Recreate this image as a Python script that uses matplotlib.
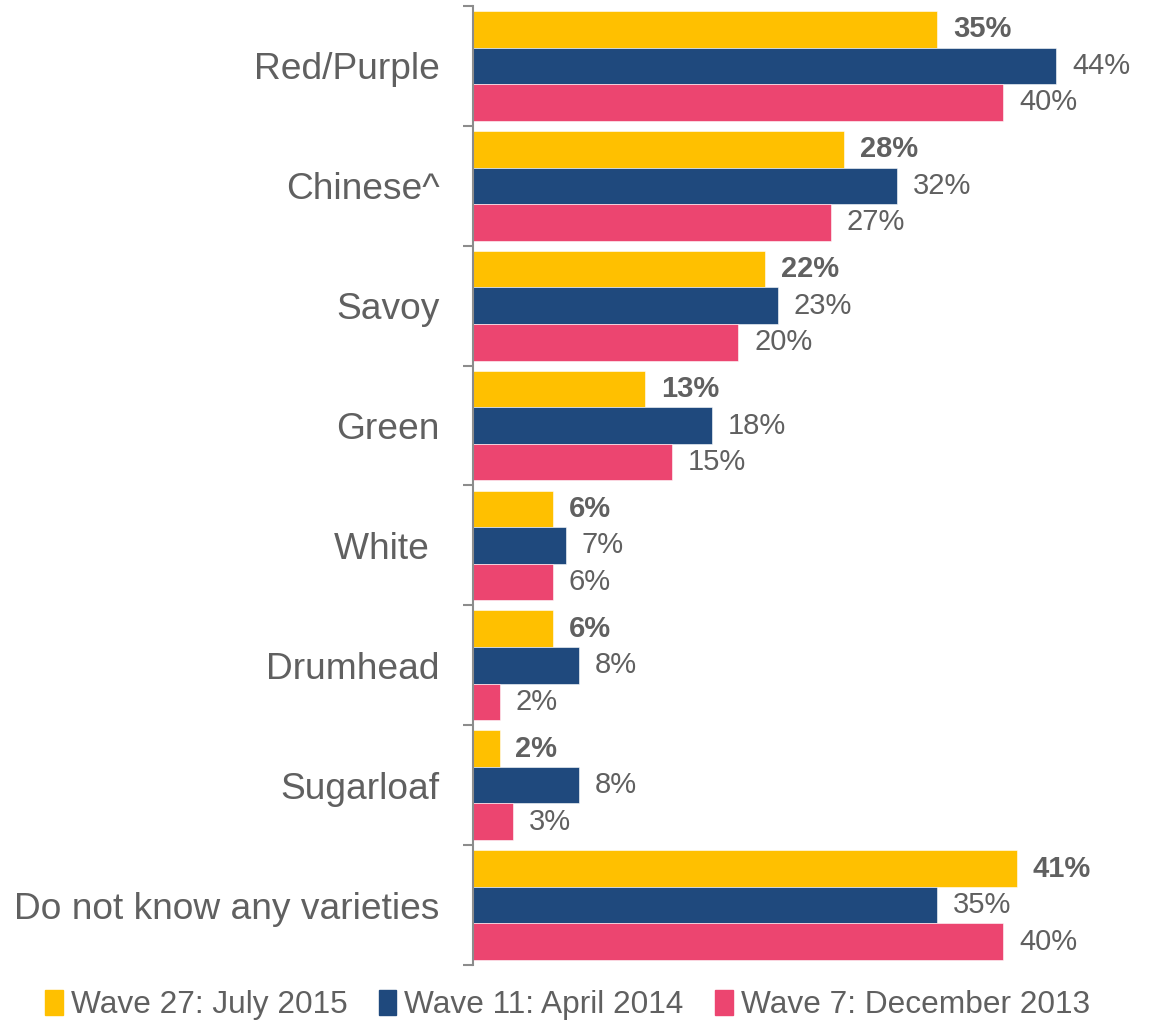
import numpy as np
import matplotlib.pyplot as plt
from matplotlib.patches import Patch

plt.rcParams['font.family'] = ['Liberation Sans', 'DejaVu Sans']

categories = ["Red/Purple", "Chinese^", "Savoy", "Green", "White ",
              "Drumhead", "Sugarloaf", "Do not know any varieties"]
wave27 = [35, 28, 22, 13, 6, 6, 2, 41]
wave11 = [44, 32, 23, 18, 7, 8, 8, 35]
wave7 = [40, 27, 20, 15, 6, 2, 3, 40]
series_names = ["Wave 27: July 2015", "Wave 11: April 2014", "Wave 7: December 2013"]
colors = ["#FFC000", "#1F497D", "#EC4570"]
text_color = "#606060"

fig = plt.figure(figsize=(11.51, 10.27), dpi=100)
ax = fig.add_axes([473 / 1151, 1 - 965 / 1027, 663 / 1151, 959 / 1027])

y = np.arange(len(categories))
h = 0.305
for k, (vals, col) in enumerate(zip([wave27, wave11, wave7], colors)):
    pos = y + (k - 1) * h
    ax.barh(pos, vals, height=h, color=col, edgecolor="white", linewidth=0.4)
    for p, v in zip(pos, vals):
        ax.text(v + 1.2, p, f"{v}%", va="center", ha="left", fontsize=21,
                color=text_color, fontweight="bold" if k == 0 else "normal")

ax.set_xlim(0, 50)
ax.set_ylim(len(categories) - 0.5, -0.5)

# group separators as ticks on the left spine, labels on minor ticks
ax.set_yticks(np.arange(len(categories) + 1) - 0.5)
ax.set_yticklabels([])
ax.tick_params(axis="y", which="major", length=7, width=1.5, color="#8c8c8c")
ax.set_yticks(y, minor=True)
ax.set_yticklabels(categories, minor=True)
ax.tick_params(axis="y", which="minor", length=0, pad=24, labelsize=26.7,
               labelcolor=text_color)

ax.set_xticks([])
for s in ["top", "right", "bottom"]:
    ax.spines[s].set_visible(False)
ax.spines["left"].set_color("#8c8c8c")
ax.spines["left"].set_linewidth(1.5)

handles = [Patch(color=c) for c in colors]
fig.legend(handles, series_names, loc="center", bbox_to_anchor=(0.493, 0.021),
           ncol=3, frameon=False, fontsize=22.8, handlelength=0.55,
           handleheight=0.8, handletextpad=0.25, columnspacing=1.0,
           labelcolor=text_color)

fig.savefig("out.png", dpi=100)
